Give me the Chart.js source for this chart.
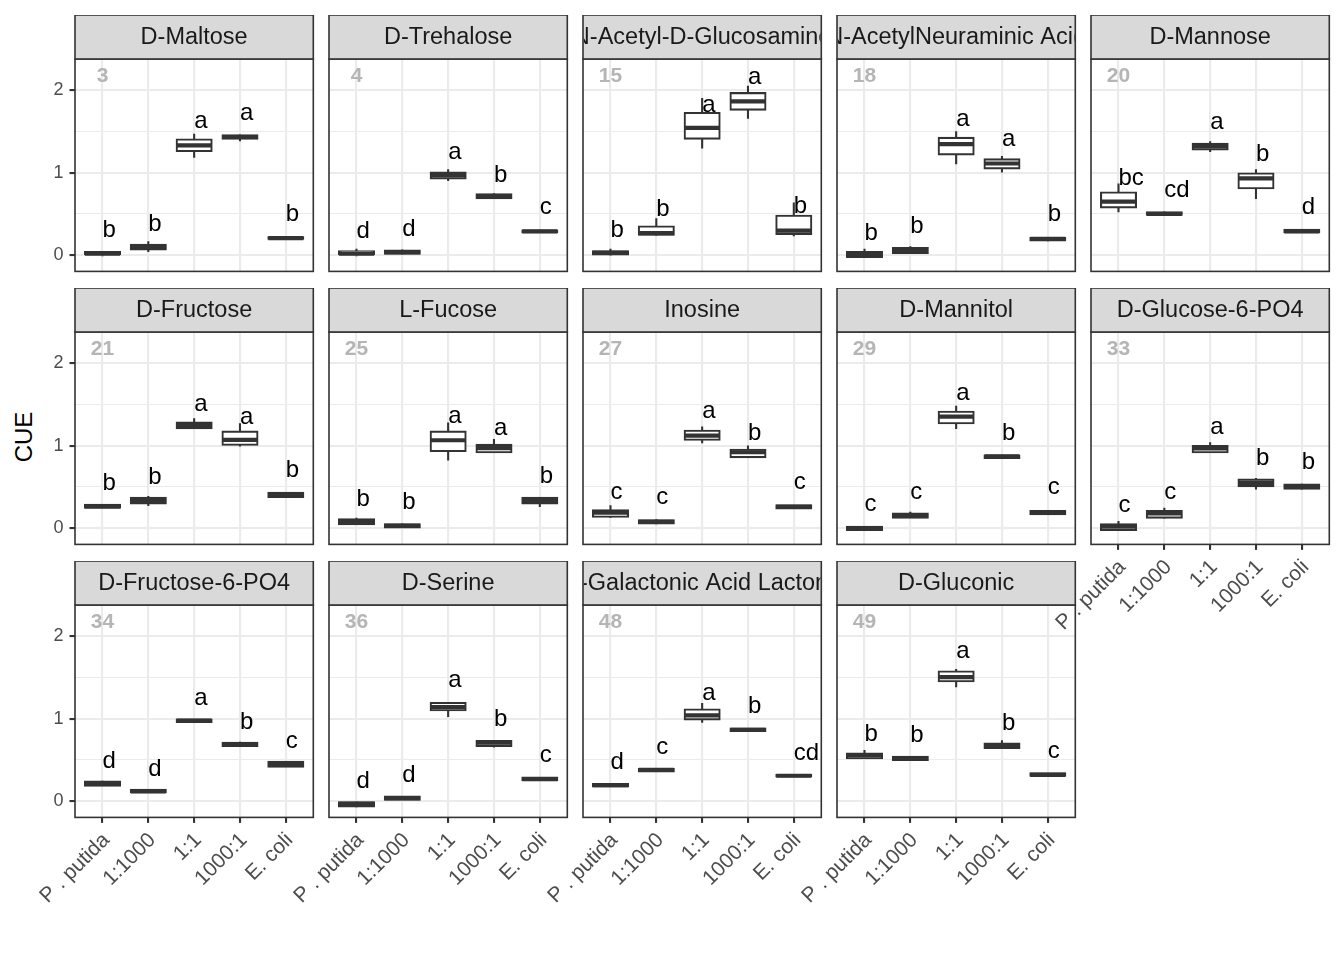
<!DOCTYPE html>
<html><head><meta charset="utf-8">
<script src="https://cdn.jsdelivr.net/npm/chart.js@4.4.1/dist/chart.umd.min.js"></script>
<style>
html,body{margin:0;padding:0;background:#fff;overflow:hidden;width:1344px;height:960px;}
#wrap{position:relative;width:1344px;height:960px;overflow:hidden;}
#wrap canvas{position:absolute;}
#ytitle{position:absolute;left:24px;top:437px;transform:translate(-50%,-50%) rotate(-90deg);font:24px "Liberation Sans",Arial,sans-serif;color:#000;white-space:nowrap;}
</style></head><body><div id="wrap"><div id="ytitle">CUE</div></div>
<script>
// ---------- data ----------
const categories = ["P . putida", "1:1000", "1:1", "1000:1", "E. coli"];
const panelNames = ["D-Maltose", "D-Trehalose", "N-Acetyl-D-Glucosamine", "N-AcetylNeuraminic Acid", "D-Mannose",
  "D-Fructose", "L-Fucose", "Inosine", "D-Mannitol", "D-Glucose-6-PO4",
  "D-Fructose-6-PO4", "D-Serine", "D-Galactonic Acid Lactone", "D-Gluconic"];
const panelNumbers = ["3", "4", "15", "18", "20", "21", "25", "27", "29", "33", "34", "36", "48", "49"];
const yTicks = [0, 0.5, 1, 1.5, 2];

const yMin = [
  [-0.01, 0.04, 1.18, 1.38, 0.19],
  [-0.01, 0.01, 0.90, 0.68, 0.27],
  [0.00, 0.24, 1.29, 1.65, 0.23],
  [-0.03, 0.02, 1.10, 1.00, 0.17],
  [0.52, 0.48, 1.25, 0.68, 0.27],
  [0.25, 0.27, 1.20, 0.99, 0.37],
  [0.05, 0.01, 0.82, 0.92, 0.26],
  [0.13, 0.05, 1.03, 0.85, 0.24],
  [-0.02, 0.13, 1.20, 0.84, 0.17],
  [-0.03, 0.12, 0.91, 0.47, 0.47],
  [0.19, 0.11, 0.96, 0.66, 0.42],
  [-0.07, 0.02, 1.02, 0.65, 0.26],
  [0.18, 0.36, 0.95, 0.85, 0.30],
  [0.52, 0.50, 1.38, 0.64, 0.31]
];
const q1 = [
  [0.00, 0.07, 1.26, 1.41, 0.20],
  [0.00, 0.02, 0.93, 0.69, 0.28],
  [0.01, 0.25, 1.41, 1.76, 0.26],
  [-0.02, 0.03, 1.22, 1.05, 0.18],
  [0.58, 0.49, 1.28, 0.81, 0.28],
  [0.25, 0.30, 1.21, 1.01, 0.38],
  [0.05, 0.01, 0.935, 0.92, 0.30],
  [0.14, 0.06, 1.07, 0.86, 0.24],
  [-0.02, 0.13, 1.27, 0.85, 0.17],
  [-0.02, 0.13, 0.92, 0.51, 0.48],
  [0.19, 0.11, 0.96, 0.67, 0.42],
  [-0.06, 0.02, 1.10, 0.67, 0.26],
  [0.18, 0.36, 0.99, 0.85, 0.30],
  [0.52, 0.50, 1.45, 0.645, 0.31]
];
const median = [
  [0.02, 0.10, 1.33, 1.43, 0.21],
  [0.02, 0.04, 0.97, 0.71, 0.29],
  [0.03, 0.27, 1.54, 1.86, 0.30],
  [0.01, 0.06, 1.345, 1.11, 0.20],
  [0.65, 0.50, 1.32, 0.93, 0.29],
  [0.265, 0.33, 1.25, 1.07, 0.40],
  [0.08, 0.03, 1.065, 0.97, 0.33],
  [0.19, 0.08, 1.12, 0.92, 0.26],
  [0.00, 0.15, 1.35, 0.87, 0.19],
  [0.02, 0.18, 0.965, 0.55, 0.50],
  [0.22, 0.12, 0.975, 0.69, 0.45],
  [-0.03, 0.04, 1.14, 0.71, 0.27],
  [0.195, 0.38, 1.04, 0.865, 0.31],
  [0.56, 0.52, 1.50, 0.68, 0.32]
];
const q3 = [
  [0.04, 0.13, 1.40, 1.45, 0.22],
  [0.05, 0.06, 1.00, 0.74, 0.30],
  [0.05, 0.35, 1.72, 1.96, 0.48],
  [0.04, 0.09, 1.42, 1.16, 0.21],
  [0.76, 0.52, 1.35, 0.99, 0.31],
  [0.285, 0.37, 1.28, 1.17, 0.43],
  [0.11, 0.05, 1.17, 1.01, 0.37],
  [0.22, 0.10, 1.18, 0.95, 0.28],
  [0.02, 0.18, 1.41, 0.88, 0.21],
  [0.05, 0.21, 0.995, 0.59, 0.53],
  [0.24, 0.14, 0.99, 0.71, 0.48],
  [-0.01, 0.06, 1.19, 0.73, 0.29],
  [0.21, 0.39, 1.11, 0.88, 0.32],
  [0.58, 0.54, 1.57, 0.70, 0.34]
];
const yMax = [
  [0.05, 0.17, 1.47, 1.46, 0.23],
  [0.08, 0.07, 1.04, 0.75, 0.31],
  [0.08, 0.45, 1.90, 2.05, 0.64],
  [0.08, 0.11, 1.50, 1.20, 0.22],
  [0.87, 0.53, 1.38, 1.04, 0.32],
  [0.29, 0.39, 1.33, 1.27, 0.44],
  [0.13, 0.06, 1.28, 1.08, 0.38],
  [0.28, 0.11, 1.23, 1.00, 0.28],
  [0.02, 0.20, 1.48, 0.89, 0.21],
  [0.09, 0.25, 1.04, 0.61, 0.54],
  [0.25, 0.14, 0.99, 0.72, 0.48],
  [0.00, 0.06, 1.20, 0.74, 0.29],
  [0.21, 0.40, 1.19, 0.88, 0.32],
  [0.62, 0.54, 1.60, 0.74, 0.34]
];
const letters = [
  ["b", "b", "a", "a", "b"],
  ["d", "d", "a", "b", "c"],
  ["b", "b", "a", "a", "b"],
  ["b", "b", "a", "a", "b"],
  ["bc", "cd", "a", "b", "d"],
  ["b", "b", "a", "a", "b"],
  ["b", "b", "a", "a", "b"],
  ["c", "c", "a", "b", "c"],
  ["c", "c", "a", "b", "c"],
  ["c", "c", "a", "b", "b"],
  ["d", "d", "a", "b", "c"],
  ["d", "d", "a", "b", "c"],
  ["d", "c", "a", "b", "cd"],
  ["b", "b", "a", "b", "c"]
];
const letterY = [
  [0.22, 0.29, 1.54, 1.64, 0.41],
  [0.21, 0.24, 1.16, 0.89, 0.50],
  [0.22, 0.47, 1.73, 2.07, 0.51],
  [0.19, 0.27, 1.56, 1.32, 0.41],
  [0.85, 0.71, 1.53, 1.135, 0.50],
  [0.46, 0.54, 1.42, 1.26, 0.62],
  [0.27, 0.23, 1.27, 1.13, 0.55],
  [0.35, 0.29, 1.33, 1.07, 0.47],
  [0.205, 0.35, 1.55, 1.07, 0.41],
  [0.20, 0.35, 1.14, 0.77, 0.72],
  [0.405, 0.31, 1.17, 0.87, 0.64],
  [0.16, 0.23, 1.38, 0.91, 0.47],
  [0.39, 0.57, 1.22, 1.07, 0.50],
  [0.735, 0.715, 1.73, 0.86, 0.52]
];
const numberY = 2.16;

// ---------- layout ----------
const FONT = '"Liberation Sans", Arial, sans-serif';
const Y_MIN = -0.193, Y_MAX = 2.372;
const COL_STEP = 253.9, ROW_STEP = 273, PLOT_TOP0 = 59.3;
const STRIP_H = 44, PLOT_W = 238.3, PLOT_H = 212.4, YAXIS_W = 75, XAXIS_H = 110;
const CW = 330, CH = 367;
const BAR_T = 35;

const facetPlugin = {
  id: 'facet',
  beforeDatasetsDraw(chart) {
    const k = chart.options.plugins.facet.panel;
    const {ctx, chartArea: a, scales: {x, y}} = chart;
    ctx.save();
    ctx.beginPath(); ctx.rect(a.left, a.top, a.right - a.left, a.bottom - a.top); ctx.clip();
    ctx.strokeStyle = '#333333'; ctx.lineWidth = 2.1; ctx.lineCap = 'butt';
    categories.forEach((c, i) => {
      const px = x.getPixelForValue(i + 1);
      ctx.beginPath();
      ctx.moveTo(px, y.getPixelForValue(yMax[k][i])); ctx.lineTo(px, y.getPixelForValue(q3[k][i]));
      ctx.moveTo(px, y.getPixelForValue(q1[k][i])); ctx.lineTo(px, y.getPixelForValue(yMin[k][i]));
      ctx.stroke();
    });
    ctx.restore();
  },
  afterDatasetsDraw(chart) {
    const k = chart.options.plugins.facet.panel;
    const {ctx, chartArea: a, scales: {x, y}} = chart;
    ctx.save();
    ctx.beginPath(); ctx.rect(a.left, a.top, a.right - a.left, a.bottom - a.top); ctx.clip();
    // medians
    const meta = chart.getDatasetMeta(0);
    ctx.strokeStyle = '#333333'; ctx.lineWidth = 4.2; ctx.lineCap = 'butt';
    meta.data.forEach((el, i) => {
      const p = el.getProps(['x', 'width'], true);
      const py = y.getPixelForValue(median[k][i]);
      ctx.beginPath();
      ctx.moveTo(p.x - p.width / 2, py); ctx.lineTo(p.x + p.width / 2, py);
      ctx.stroke();
    });
    // letters
    ctx.fillStyle = '#000000'; ctx.font = '24px ' + FONT;
    ctx.textAlign = 'left'; ctx.textBaseline = 'alphabetic';
    categories.forEach((c, i) => {
      ctx.fillText(letters[k][i], x.getPixelForValue(i + 1), y.getPixelForValue(letterY[k][i]));
    });
    // panel number
    ctx.fillStyle = '#B5B5B5'; ctx.font = 'bold 21px ' + FONT;
    ctx.textAlign = 'center'; ctx.textBaseline = 'middle';
    ctx.fillText(panelNumbers[k], x.getPixelForValue(1), y.getPixelForValue(numberY));
    ctx.restore();
  },
  afterDraw(chart) {
    const k = chart.options.plugins.facet.panel;
    const {ctx, chartArea: a} = chart;
    ctx.save();
    ctx.strokeStyle = '#333333'; ctx.lineWidth = 1.6;
    ctx.strokeRect(a.left, a.top, a.right - a.left, a.bottom - a.top);
    const st = a.top - STRIP_H;
    ctx.fillStyle = '#D9D9D9';
    ctx.fillRect(a.left, st, a.right - a.left, STRIP_H);
    ctx.strokeRect(a.left, st, a.right - a.left, STRIP_H);
    ctx.beginPath(); ctx.rect(a.left + 0.8, st, a.right - a.left - 1.6, STRIP_H); ctx.clip();
    ctx.fillStyle = '#1A1A1A'; ctx.font = '23.5px ' + FONT;
    ctx.textAlign = 'center'; ctx.textBaseline = 'middle';
    ctx.fillText(panelNames[k], (a.left + a.right) / 2, st + STRIP_H / 2 + 1);
    ctx.restore();
  }
};

const wrap = document.getElementById('wrap');
panelNames.forEach((name, k) => {
  const r = Math.floor(k / 5), c = k % 5;
  const showY = c === 0;
  const showX = r === 2 || (r === 1 && c === 4);
  const cv = document.createElement('canvas');
  cv.width = CW; cv.height = CH;
  cv.style.width = CW + 'px'; cv.style.height = CH + 'px';
  cv.style.left = (COL_STEP * c) + 'px';
  cv.style.top = (PLOT_TOP0 + ROW_STEP * r - STRIP_H) + 'px';
  wrap.appendChild(cv);
  new Chart(cv, {
    type: 'bar',
    data: {
      datasets: [{
        data: categories.map((cat, i) => ({x: i + 1, y: [q1[k][i], q3[k][i]]})),
        backgroundColor: '#FFFFFF',
        borderColor: '#333333',
        borderWidth: 2.1,
        borderSkipped: false,
        inflateAmount: 1,
        barThickness: BAR_T
      }]
    },
    plugins: [facetPlugin],
    options: {
      responsive: false,
      animation: false,
      events: [],
      layout: {padding: {top: STRIP_H, left: 0, right: CW - YAXIS_W - PLOT_W, bottom: CH - STRIP_H - PLOT_H - XAXIS_H}},
      plugins: {legend: {display: false}, tooltip: {enabled: false}, facet: {panel: k}},
      scales: {
        x: {
          type: 'linear', min: 0.4, max: 5.6, offset: false,
          afterBuildTicks: (s) => { s.ticks = categories.map((cat, i) => ({value: i + 1})); },
          afterFit: (s) => { s.height = XAXIS_H; },
          border: {display: false},
          grid: {offset: false, color: '#EBEBEB', lineWidth: 2.1, drawTicks: showX, tickLength: 5.5, tickColor: '#333333', tickWidth: 2.1},
          ticks: {
            display: showX, autoSkip: false, minRotation: 45, maxRotation: 45, padding: 5, labelOffset: 4,
            color: '#4D4D4D', font: {family: FONT, size: 21},
            callback: (v) => categories[Math.round(v) - 1]
          }
        },
        y: {
          type: 'linear', min: Y_MIN, max: Y_MAX,
          afterBuildTicks: (s) => { s.ticks = yTicks.map(v => ({value: v})); },
          afterFit: (s) => { s.width = YAXIS_W; },
          border: {display: false},
          grid: {
            color: '#EBEBEB',
            lineWidth: (ctx) => (ctx.tick && Number.isInteger(ctx.tick.value)) ? 2.1 : 1.07,
            drawTicks: showY, tickLength: 5.5, tickWidth: 2.1,
            tickColor: (ctx) => (ctx.tick && Number.isInteger(ctx.tick.value)) ? '#333333' : 'rgba(0,0,0,0)'
          },
          ticks: {
            display: showY, padding: 6, color: '#4D4D4D', font: {family: FONT, size: 18},
            callback: (v) => Number.isInteger(v) ? String(v) : ''
          }
        }
      }
    }
  });
});
</script></body></html>
